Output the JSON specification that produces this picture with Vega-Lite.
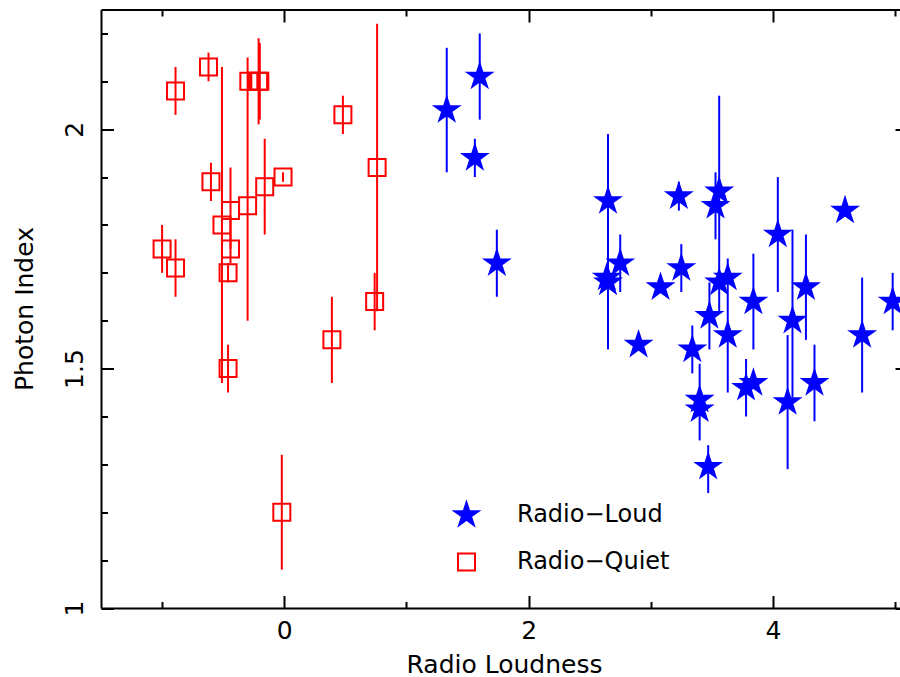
{
  "$schema": "https://vega.github.io/schema/vega-lite/v6.json",
  "width": 799,
  "height": 598.5,
  "autosize": {"type": "none"},
  "padding": {"left": 101, "top": 9.5, "right": 0, "bottom": 69},
  "background": "white",
  "config": {
    "view": {"stroke": null},
    "axis": {
      "grid": false,
      "domainColor": "black",
      "domainWidth": 2,
      "tickColor": "black",
      "tickWidth": 2,
      "labelFont": "DejaVu Sans",
      "labelFontSize": 25,
      "labelColor": "black",
      "titleFont": "DejaVu Sans",
      "titleFontSize": 25,
      "titleFontWeight": "normal",
      "titleColor": "black"
    },
    "legend": {
      "labelFont": "DejaVu Sans",
      "labelFontSize": 24,
      "labelColor": "black",
      "labelOffset": 37,
      "rowPadding": 19,
      "padding": 0,
      "symbolStrokeWidth": 2,
      "symbolSize": 625,
      "symbolOpacity": 1
    }
  },
  "data": {
    "values": [
      {"type": "Radio−Quiet", "x": -1.00, "y": 1.75, "lo": 1.70, "hi": 1.80},
      {"type": "Radio−Quiet", "x": -0.89, "y": 2.08, "lo": 2.03, "hi": 2.13},
      {"type": "Radio−Quiet", "x": -0.89, "y": 1.71, "lo": 1.65, "hi": 1.77},
      {"type": "Radio−Quiet", "x": -0.62, "y": 2.13, "lo": 2.10, "hi": 2.16},
      {"type": "Radio−Quiet", "x": -0.60, "y": 1.89, "lo": 1.85, "hi": 1.93},
      {"type": "Radio−Quiet", "x": -0.51, "y": 1.80, "lo": 1.47, "hi": 2.13},
      {"type": "Radio−Quiet", "x": -0.44, "y": 1.83, "lo": 1.75, "hi": 1.92},
      {"type": "Radio−Quiet", "x": -0.44, "y": 1.75, "lo": 1.72, "hi": 1.78},
      {"type": "Radio−Quiet", "x": -0.46, "y": 1.70, "lo": 1.68, "hi": 1.72},
      {"type": "Radio−Quiet", "x": -0.46, "y": 1.50, "lo": 1.45, "hi": 1.55},
      {"type": "Radio−Quiet", "x": -0.30, "y": 1.84, "lo": 1.60, "hi": 2.15},
      {"type": "Radio−Quiet", "x": -0.29, "y": 2.10, "lo": 2.08, "hi": 2.12},
      {"type": "Radio−Quiet", "x": -0.21, "y": 2.10, "lo": 2.01, "hi": 2.19},
      {"type": "Radio−Quiet", "x": -0.20, "y": 2.10, "lo": 2.02, "hi": 2.18},
      {"type": "Radio−Quiet", "x": -0.16, "y": 1.88, "lo": 1.78, "hi": 1.98},
      {"type": "Radio−Quiet", "x": -0.01, "y": 1.90, "lo": 1.89, "hi": 1.91},
      {"type": "Radio−Quiet", "x": -0.02, "y": 1.20, "lo": 1.08, "hi": 1.32},
      {"type": "Radio−Quiet", "x": 0.39, "y": 1.56, "lo": 1.47, "hi": 1.65},
      {"type": "Radio−Quiet", "x": 0.48, "y": 2.03, "lo": 1.99, "hi": 2.07},
      {"type": "Radio−Quiet", "x": 0.76, "y": 1.92, "lo": 1.62, "hi": 2.22},
      {"type": "Radio−Quiet", "x": 0.74, "y": 1.64, "lo": 1.58, "hi": 1.70},
      {"type": "Radio−Loud", "x": 1.33, "y": 2.04, "lo": 1.91, "hi": 2.17},
      {"type": "Radio−Loud", "x": 1.60, "y": 2.11, "lo": 2.02, "hi": 2.20},
      {"type": "Radio−Loud", "x": 1.56, "y": 1.94, "lo": 1.90, "hi": 1.98},
      {"type": "Radio−Loud", "x": 1.74, "y": 1.72, "lo": 1.65, "hi": 1.79},
      {"type": "Radio−Loud", "x": 2.65, "y": 1.85, "lo": 1.54, "hi": 1.99},
      {"type": "Radio−Loud", "x": 2.64, "y": 1.69, "lo": 1.69, "hi": 1.69},
      {"type": "Radio−Loud", "x": 2.65, "y": 1.68, "lo": 1.68, "hi": 1.68},
      {"type": "Radio−Loud", "x": 2.75, "y": 1.72, "lo": 1.66, "hi": 1.78},
      {"type": "Radio−Loud", "x": 2.90, "y": 1.55, "lo": 1.55, "hi": 1.55},
      {"type": "Radio−Loud", "x": 3.08, "y": 1.67, "lo": 1.66, "hi": 1.68},
      {"type": "Radio−Loud", "x": 3.23, "y": 1.86, "lo": 1.83, "hi": 1.89},
      {"type": "Radio−Loud", "x": 3.25, "y": 1.71, "lo": 1.66, "hi": 1.76},
      {"type": "Radio−Loud", "x": 3.56, "y": 1.87, "lo": 1.62, "hi": 2.07},
      {"type": "Radio−Loud", "x": 3.53, "y": 1.84, "lo": 1.77, "hi": 1.91},
      {"type": "Radio−Loud", "x": 3.56, "y": 1.68, "lo": 1.68, "hi": 1.68},
      {"type": "Radio−Loud", "x": 3.63, "y": 1.69, "lo": 1.66, "hi": 1.73},
      {"type": "Radio−Loud", "x": 3.63, "y": 1.57, "lo": 1.45, "hi": 1.66},
      {"type": "Radio−Loud", "x": 3.48, "y": 1.61, "lo": 1.54, "hi": 1.68},
      {"type": "Radio−Loud", "x": 3.84, "y": 1.64, "lo": 1.54, "hi": 1.74},
      {"type": "Radio−Loud", "x": 3.34, "y": 1.54, "lo": 1.49, "hi": 1.59},
      {"type": "Radio−Loud", "x": 4.04, "y": 1.78, "lo": 1.66, "hi": 1.90},
      {"type": "Radio−Loud", "x": 4.59, "y": 1.83, "lo": 1.82, "hi": 1.85},
      {"type": "Radio−Loud", "x": 4.16, "y": 1.60, "lo": 1.44, "hi": 1.79},
      {"type": "Radio−Loud", "x": 4.27, "y": 1.67, "lo": 1.56, "hi": 1.78},
      {"type": "Radio−Loud", "x": 4.12, "y": 1.43, "lo": 1.29, "hi": 1.57},
      {"type": "Radio−Loud", "x": 4.34, "y": 1.47, "lo": 1.39, "hi": 1.55},
      {"type": "Radio−Loud", "x": 3.78, "y": 1.46, "lo": 1.40, "hi": 1.52},
      {"type": "Radio−Loud", "x": 3.84, "y": 1.47, "lo": 1.46, "hi": 1.49},
      {"type": "Radio−Loud", "x": 4.73, "y": 1.57, "lo": 1.45, "hi": 1.69},
      {"type": "Radio−Loud", "x": 4.98, "y": 1.64, "lo": 1.58, "hi": 1.70},
      {"type": "Radio−Loud", "x": 3.40, "y": 1.435, "lo": 1.35, "hi": 1.51},
      {"type": "Radio−Loud", "x": 3.40, "y": 1.415, "lo": 1.415, "hi": 1.415},
      {"type": "Radio−Loud", "x": 3.47, "y": 1.295, "lo": 1.24, "hi": 1.34}
    ]
  },
  "layer": [
    {
      "mark": {"type": "rule", "strokeWidth": 2},
      "encoding": {
        "x": {
          "field": "x", "type": "quantitative",
          "scale": {"domain": [-1.5, 5.04], "nice": false, "zero": false},
          "axis": {
            "orient": "bottom",
            "values": [-1, 0, 1, 2, 3, 4, 5],
            "tickSize": {"condition": {"test": "datum.value % 2 === 0", "value": -12.5}, "value": -6.5},
            "labelExpr": "datum.value % 2 === 0 ? datum.label : ''",
            "labelBaseline": "alphabetic",
            "labelPadding": 43,
            "labelFlush": false,
            "title": "Radio Loudness",
            "titleX": 403,
            "titleY": 64,
            "titleBaseline": "alphabetic",
            "titleAlign": "center"
          }
        },
        "y": {
          "field": "lo", "type": "quantitative",
          "scale": {"domain": [1, 2.25], "nice": false, "zero": false},
          "axis": {
            "orient": "left",
            "values": [1, 1.1, 1.2, 1.3, 1.4, 1.5, 1.6, 1.7, 1.8, 1.9, 2, 2.1, 2.2],
            "tickSize": {"condition": {"test": "abs(datum.value*2 - round(datum.value*2)) < 0.001", "value": -12.5}, "value": -6.5},
            "labelExpr": "abs(datum.value*2 - round(datum.value*2)) < 0.001 ? format(datum.value, '~g') : ''",
            "labelAngle": 270,
            "labelAlign": "center",
            "labelBaseline": "alphabetic",
            "labelPadding": 31,
            "labelFlush": false,
            "title": "Photon Index",
            "titleX": -69,
            "titleY": 299,
            "titleAngle": 270,
            "titleBaseline": "alphabetic",
            "titleAlign": "center"
          }
        },
        "y2": {"field": "hi"},
        "stroke": {
          "field": "type", "type": "nominal",
          "scale": {"domain": ["Radio−Loud", "Radio−Quiet"], "range": ["#0000ff", "#ff0000"]},
          "legend": {"orient": "none", "legendX": 352, "legendY": 492, "title": null}
        }
      }
    },
    {
      "mark": {"type": "point", "filled": true, "opacity": 1, "strokeWidth": 2, "size": 625},
      "encoding": {
        "x": {
          "field": "x", "type": "quantitative",
          "axis": {
            "orient": "top",
            "values": [-1, 0, 1, 2, 3, 4, 5],
            "tickSize": {"condition": {"test": "datum.value % 2 === 0", "value": -12.5}, "value": -6.5},
            "labels": false,
            "title": null
          }
        },
        "y": {
          "field": "y", "type": "quantitative",
          "axis": {
            "orient": "right",
            "values": [1, 1.5, 2],
            "tickSize": -5,
            "domain": false,
            "labels": false,
            "title": null
          }
        },
        "shape": {
          "field": "type", "type": "nominal",
          "scale": {"domain": ["Radio−Loud", "Radio−Quiet"], "range": ["M0,-1L0.2245,-0.309L0.951,-0.309L0.363,0.118L0.588,0.809L0,0.382L-0.588,0.809L-0.363,0.118L-0.951,-0.309L-0.2245,-0.309Z", "M-0.68,-0.68L0.68,-0.68L0.68,0.68L-0.68,0.68Z"]},
          "legend": {"orient": "none", "legendX": 352, "legendY": 492, "title": null}
        },
        "fill": {
          "field": "type", "type": "nominal",
          "scale": {"domain": ["Radio−Loud", "Radio−Quiet"], "range": ["#0000ff", "transparent"]},
          "legend": {"orient": "none", "legendX": 352, "legendY": 492, "title": null}
        },
        "stroke": {
          "field": "type", "type": "nominal",
          "legend": {"orient": "none", "legendX": 352, "legendY": 492, "title": null}
        }
      }
    }
  ],
  "resolve": {"axis": {"x": "independent", "y": "independent"}}
}
